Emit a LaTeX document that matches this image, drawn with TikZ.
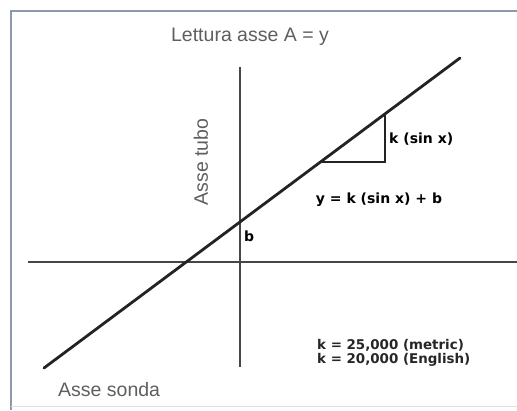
\documentclass[tikz,border=0pt]{standalone}
\usepackage{fontspec}
\setmainfont{Liberation Sans}
\newfontfamily\dvbold{DejaVu Sans}[BoldFont={DejaVu Sans Bold}]
\definecolor{framecol}{RGB}{140,152,172}
\definecolor{labgray}{RGB}{95,95,95}
\definecolor{axiscol}{RGB}{70,70,70}
\definecolor{linecol}{RGB}{35,35,35}
\tikzset{
  graylab/.style={inner sep=0pt, text=labgray, font=\fontsize{19.5}{22}\selectfont},
  boldlab/.style={inner sep=0pt, text=black, font=\dvbold\bfseries\fontsize{14}{16}\selectfont},
  constlab/.style={inner sep=0pt, text=black!85, align=left, font=\dvbold\bfseries\fontsize{13.4}{13.5}\selectfont},
  axisline/.style={draw=axiscol, line width=1.4pt},
  mainline/.style={draw=linecol, line width=2.8pt},
  triline/.style={draw=linecol, line width=1.4pt}
}
\begin{document}
\begin{tikzpicture}[x=1pt,y=-1pt]
\useasboundingbox (0,0) rectangle (517,410);
\fill[white] (0,0) rectangle (517,410);
% frame
\coordinate (ftr) at (517,11);
\coordinate (ftl) at (11,11);
\coordinate (fbl) at (11,410);
\draw[framecol, line width=2pt] (fbl) -- (ftl) -- (ftr);
\draw[black!12, line width=1pt] (11,406) -- (517,406);
% axes
\coordinate (hL) at (28,262);
\coordinate (hR) at (517,262);
\coordinate (vT) at (240,67);
\coordinate (vB) at (240,367);
\draw[axisline] (hL) -- (hR);
\draw[axisline] (vT) -- (vB);
% main line
\coordinate (mA) at (44,368);
\coordinate (mB) at (460,58);
\draw[mainline, line cap=round] (mA) -- (mB);
% triangle
\coordinate (tA) at (322,162);
\coordinate (tC) at (385,162);
\coordinate (tT) at (385,115);
\draw[triline] (tA) -- (tC) -- (tT);
% labels
\node[graylab] (lettura) at (250,37) {Lettura asse A = y};
\node[graylab, rotate=90] (tubo) at (201,162) {Asse tubo};
\node[graylab, anchor=west] (sonda) at (58,390) {Asse sonda};
\node[boldlab, anchor=west] (ksin) at (389,139) {k (sin x)};
\node[boldlab] (eq) at (379,200) {y = k (sin x) + b};
\node[boldlab, anchor=west] (b) at (244,236) {b};
\node[constlab, anchor=west] (kvals) at (317,353) {k = 25,000 (metric)\\k = 20,000 (English)};
\end{tikzpicture}
\end{document}
